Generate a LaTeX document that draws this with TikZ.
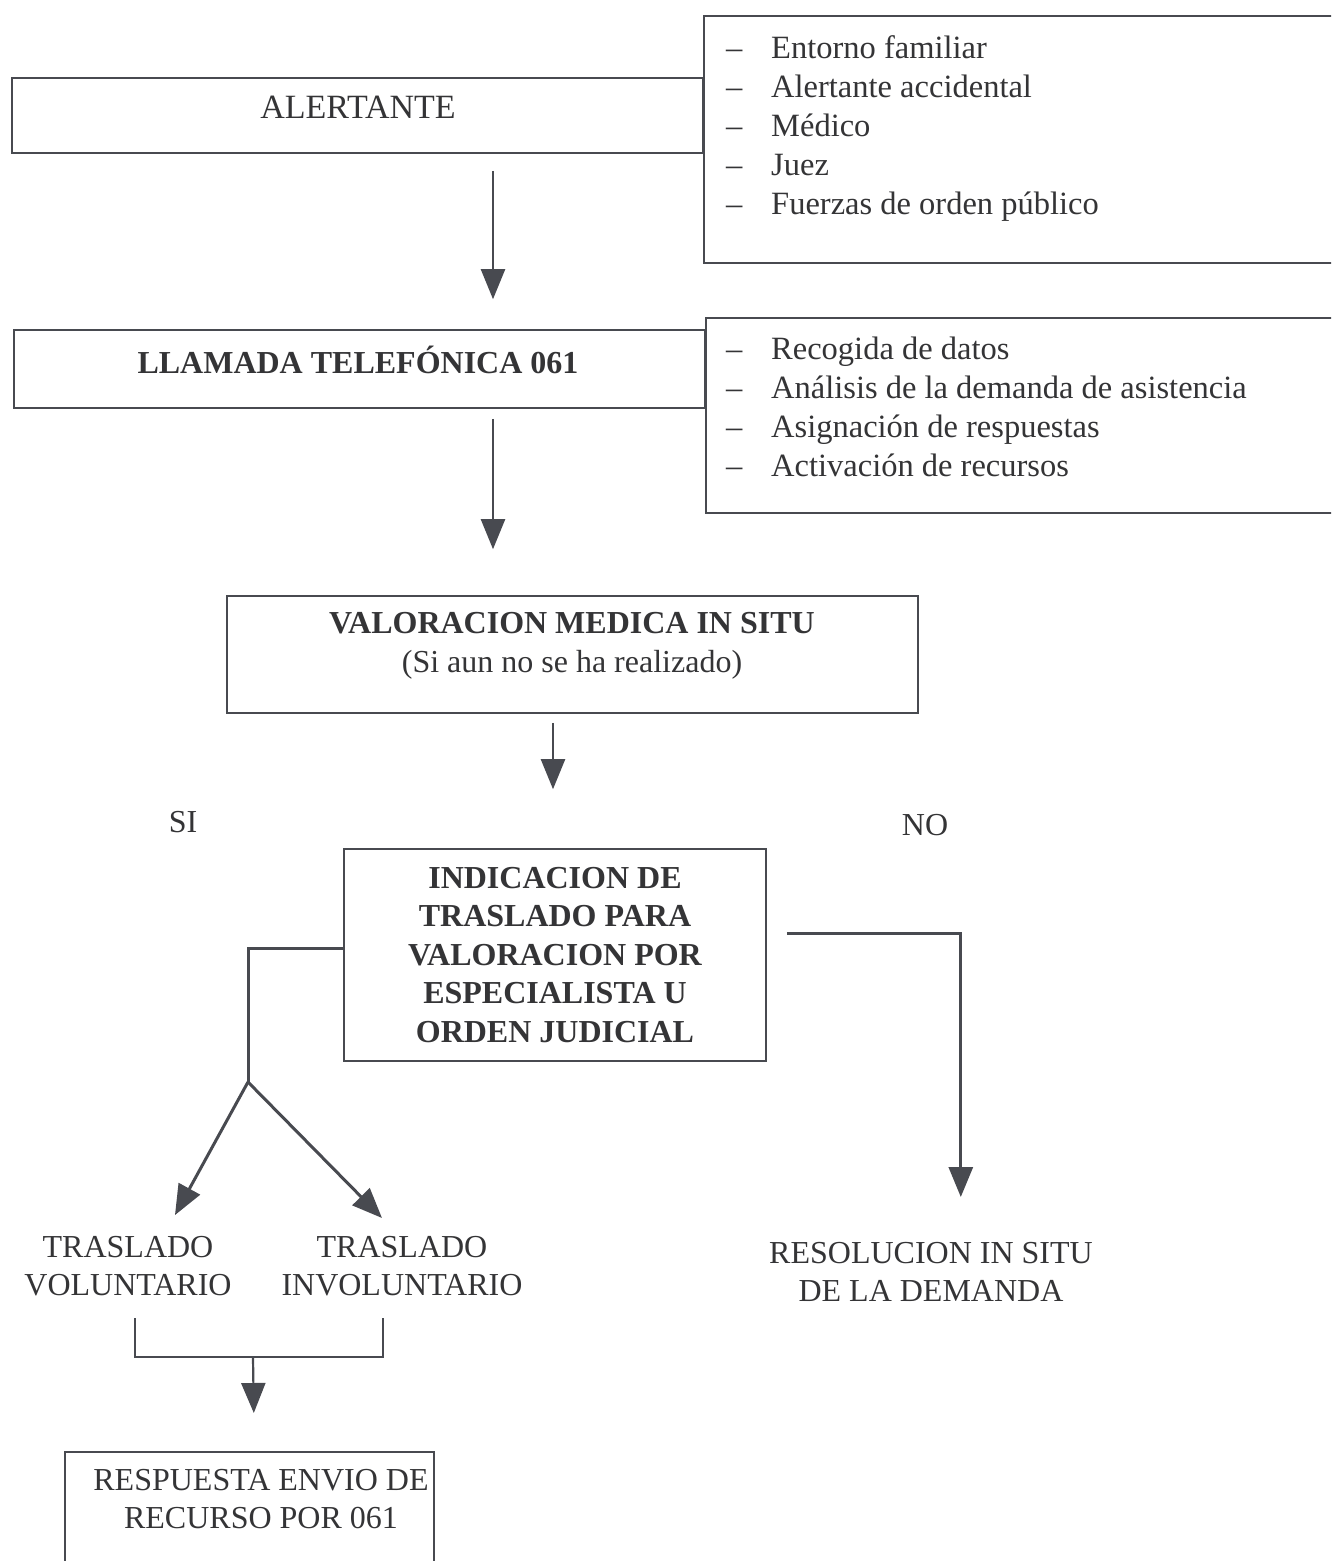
\documentclass[tikz,border=0pt]{standalone}
\usepackage{fontspec}
\setmainfont{Liberation Serif}
\usepackage{xcolor}
\usetikzlibrary{arrows.meta,positioning}
\definecolor{InkGrey}{RGB}{52,52,54}
\definecolor{RuleGrey}{RGB}{72,74,80}

\tikzset{
    frame/.style={draw=RuleGrey, line width=1.6pt, rectangle, inner sep=0pt},
    caption/.style={text=InkGrey, align=center, inner sep=0pt, font=\fontsize{32}{38.5}\selectfont},
    heading/.style={caption, font=\bfseries\fontsize{32}{38.5}\selectfont},
    bullets/.style={text=InkGrey, align=left, inner sep=0pt, anchor=north west, font=\fontsize{32.5}{39}\selectfont},
    flow/.style={draw=RuleGrey, line width=2.2pt, -{Triangle[length=30pt,width=24pt]}},
    link/.style={draw=RuleGrey, line width=3pt},
}
\newcommand{\listentry}[1]{\makebox[45pt][l]{--}#1}

\begin{document}
\begin{tikzpicture}[x=1pt, y=-1pt]
    \useasboundingbox (0,0) rectangle (1331,1561);
    \clip (0,0) rectangle (1331,1561);

    % Boxes of the first two steps and their lists
    \node[frame, minimum width=691pt, minimum height=75pt] (alertante) at (357.5,115.5) {};
    \node[caption, font=\fontsize{34}{38.5}\selectfont] (alertantetxt) at (358,107.5) {ALERTANTE};
    \node[frame, fill=white, minimum width=660pt, minimum height=247pt, anchor=north west] (fuentes) at (703,15) {};
    \node[bullets] (fuenteslist) at (726,35) {\listentry{Entorno familiar}\\ \listentry{Alertante accidental}\\ \listentry{Médico}\\ \listentry{Juez}\\ \listentry{Fuerzas de orden público}};

    \node[frame, minimum width=691pt, minimum height=78pt] (llamada) at (359.5,369) {};
    \node[heading] (llamadatxt) at (358,360) {LLAMADA TELEFÓNICA 061};
    \node[frame, fill=white, minimum width=660pt, minimum height=195pt, anchor=north west] (tareas) at (705,317) {};
    \node[bullets] (tareaslist) at (726,337) {\listentry{Recogida de datos}\\ \listentry{Análisis de la demanda de asistencia}\\ \listentry{Asignación de respuestas}\\ \listentry{Activación de recursos}};

    % Medical assessment
    \node[frame, minimum width=691pt, minimum height=117pt] (valoracion) at (572.5,654.5) {};
    \node[caption] (valoraciontxt) at (572,646) {\textbf{VALORACION MEDICA IN SITU}\\(Si aun no se ha realizado)};

    \node[caption] (si) at (183,822) {SI};
    \node[caption] (no) at (925,825) {NO};

    \node[frame, minimum width=422pt, minimum height=212pt] (indicacion) at (555,955) {};
    \node[heading] (indicaciontxt) at (555,955) {INDICACION DE\\TRASLADO PARA\\VALORACION POR\\ESPECIALISTA U\\ORDEN JUDICIAL};

    % Outcomes
    \node[caption] (voluntario) at (128,1266) {TRASLADO\\VOLUNTARIO};
    \node[caption] (involuntario) at (402,1266) {TRASLADO\\INVOLUNTARIO};
    \node[caption] (resolucion) at (931,1272) {RESOLUCION IN SITU\\DE LA DEMANDA};

    \node[frame, minimum width=369pt, minimum height=160pt, anchor=north west] (respuesta) at (64,1451) {};
    \node[caption] (respuestatxt) at (261,1499) {RESPUESTA ENVIO DE\\RECURSO POR 061};

    % Connectors
    \draw[flow] ([xshift=135.5pt,yshift=-17pt]alertante.south) -- ([xshift=133.5pt,yshift=30pt]llamada.north);
    \draw[flow] ([xshift=133.5pt,yshift=-10pt]llamada.south) -- ([xshift=-79.5pt,yshift=46pt]valoracion.north);
    \draw[flow] ([xshift=-19.5pt,yshift=-9pt]valoracion.south) -- ([xshift=-2pt,yshift=59pt]indicacion.north);

    \coordinate (split) at (248,1082);
    \draw[link] ([yshift=7pt]indicacion.west) -| (split);
    \draw[flow, line width=3pt] (split) -- (175,1215);
    \draw[flow, line width=3pt] (split) -- (382,1218);

    \draw[flow, line width=3pt] ([xshift=20pt,yshift=22pt]indicacion.east) -- ++(174,0) -- ++(0,264);

    \coordinate (merge) at (253,1357);
    \draw[link, line width=2.2pt] (135,1318) |- (merge) -| (383,1318);
    \draw[flow] (merge) -- ([xshift=4.5pt,yshift=38pt]respuesta.north);
\end{tikzpicture}
\end{document}
